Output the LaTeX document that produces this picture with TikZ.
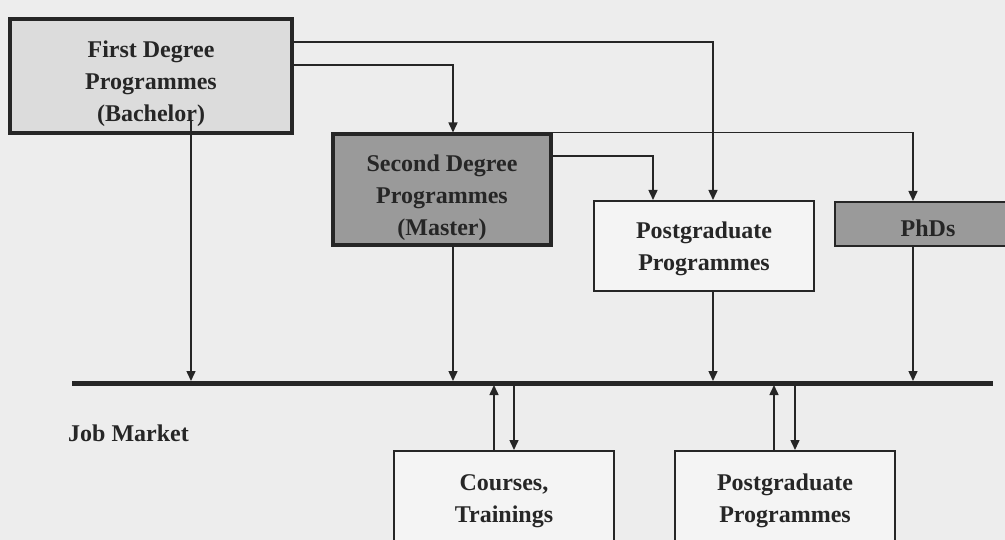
\documentclass[tikz,border=0pt]{standalone}
\usepackage{fontspec}
\setmainfont{Liberation Serif}
\usetikzlibrary{arrows.meta, calc}
\definecolor{paper}{HTML}{EDEDED}
\definecolor{inkgray}{HTML}{262626}
\definecolor{lightbox}{HTML}{DCDCDC}
\definecolor{darkbox}{HTML}{9A9A9A}
\definecolor{whitebox}{HTML}{F4F4F4}

\begin{document}
\begin{tikzpicture}[x=1pt, y=-1pt,
  box/.style={rectangle, draw=inkgray, text=inkgray, align=center,
    font=\fontsize{24}{32}\selectfont\bfseries, inner sep=0pt},
  heavy/.style={box, line width=4pt},
  light/.style={box, line width=2pt},
  conn/.style={draw=inkgray, line width=1.5pt, -{Triangle[length=10pt,width=9pt]}},
  tomarket/.style={conn, shorten >=2pt}]
\useasboundingbox (0,0) rectangle (1005,540);
\clip (0,0) rectangle (1005,540);
\fill[paper] (0,0) rectangle (1005,540);

% education boxes
\node[heavy, fill=lightbox, minimum width=282pt, minimum height=114pt, text height=97pt] (first) at (151,76)
  {First Degree\\Programmes\\(Bachelor)};
\node[heavy, fill=darkbox, minimum width=218pt, minimum height=111pt, text height=97pt] (second) at (442,190)
  {Second Degree\\Programmes\\(Master)};
\node[light, fill=whitebox, minimum width=220pt, minimum height=90pt, text height=55pt] (pgtop) at (704,246)
  {Postgraduate\\Programmes};
\node[light, fill=darkbox, minimum width=186pt, minimum height=44pt, text height=25pt] (phd) at (928,224)
  {PhDs};

% job market
\coordinate (jmL) at (72,383);
\coordinate (jmR) at (993,383);
\draw[inkgray, line width=5pt] (jmL) -- (jmR);
\node[text=inkgray, font=\fontsize{24}{32}\selectfont\bfseries, anchor=west, inner sep=0pt] (jmtext) at (68,433)
  {Job Market};

% further training
\node[light, fill=whitebox, minimum width=220pt, minimum height=100pt] (courses) at (504,501)
  {Courses,\\Trainings};
\node[light, fill=whitebox, minimum width=220pt, minimum height=100pt] (pgbot) at (785,501)
  {Postgraduate\\Programmes};

% paths between programmes
\draw[conn] ([yshift=11pt]first.east) -| ([xshift=11pt]second.north);
\draw[conn] ([yshift=34pt]first.east) -| ([xshift=9pt]pgtop.north);
\draw[conn] ([yshift=34pt]second.east) -| ([xshift=-51pt]pgtop.north);
\draw[conn] (second.north east) -| ([xshift=-15pt]phd.north);

% into the job market
\draw[tomarket] ([xshift=40pt,yshift=15pt]first.south) -- ([xshift=40pt]first.south |- jmL);
\draw[tomarket] ([xshift=11pt]second.south) -- ([xshift=11pt]second.south |- jmL);
\draw[tomarket] ([xshift=9pt]pgtop.south) -- ([xshift=9pt]pgtop.south |- jmL);
\draw[tomarket] ([xshift=-15pt]phd.south) -- ([xshift=-15pt]phd.south |- jmL);

% back and forth
\draw[tomarket] ([xshift=-10pt]courses.north) -- ([xshift=-10pt]courses.north |- jmL);
\draw[conn, shorten <=2pt] ([xshift=10pt]courses.north |- jmL) -- ([xshift=10pt]courses.north);
\draw[tomarket] ([xshift=-11pt]pgbot.north) -- ([xshift=-11pt]pgbot.north |- jmL);
\draw[conn, shorten <=2pt] ([xshift=10pt]pgbot.north |- jmL) -- ([xshift=10pt]pgbot.north);
\end{tikzpicture}
\end{document}
